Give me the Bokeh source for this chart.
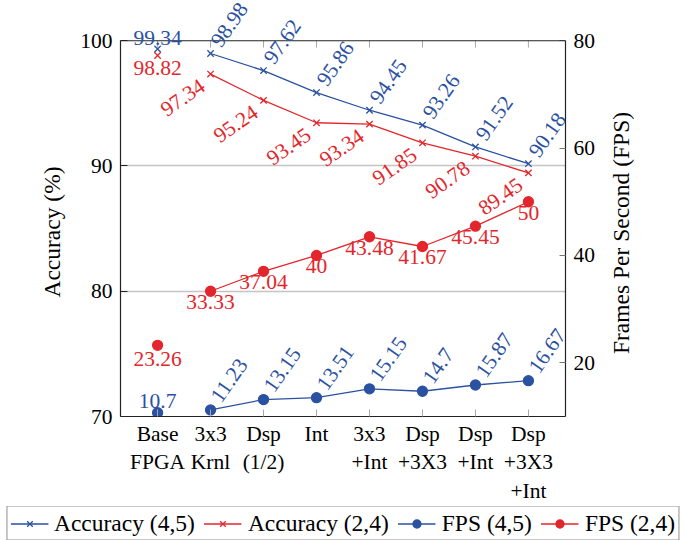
import math
from bokeh.plotting import figure
from bokeh.layouts import column, row
from bokeh.models import (Range1d, LinearAxis, FixedTicker, ColumnDataSource,
                          LabelSet, Legend, LegendItem, Span, Title)
from bokeh.embed import file_html
from bokeh.resources import INLINE

# ---------------- data ----------------
categories = ["Base\nFPGA", "3x3\nKrnl", "Dsp\n(1/2)", "Int", "3x3\n+Int",
              "Dsp\n+3X3", "Dsp\n+Int", "Dsp\n+3X3\n+Int"]
acc_45 = [99.34, 98.98, 97.62, 95.86, 94.45, 93.26, 91.52, 90.18]
acc_24 = [98.82, 97.34, 95.24, 93.45, 93.34, 91.85, 90.78, 89.45]
fps_45 = [10.7, 11.23, 13.15, 13.51, 15.15, 14.7, 15.87, 16.67]
fps_24 = [23.26, 33.33, 37.04, 40, 43.48, 41.67, 45.45, 50]
acc_ticks = [70, 80, 90, 100]
fps_ticks = [20, 40, 60, 80]
acc_bounds = (70, 100)
fps_bounds = (10, 80)
acc_title = "Accuracy (%)"
fps_title = "Frames Per Second (FPS)"
series_names = ["Accuracy (4,5)", "Accuracy (2,4)", "FPS (4,5)", "FPS (2,4)"]

# ---------------- style ----------------
BLUE = "#2b51a1"
RED = "#e3262c"
FONT = "Liberation Serif"
FS = "21.5px"        # numbers and category names
FS_T = "23.5px"      # axis titles and legend
TICK_GRAY = "#a8a8a8"
DARK = "#222222"
NB = "\u00a0"        # padding that moves the left title to the middle of the box

# the frame is extended above the 100 % line so the rotated value labels
# above the plot box are not clipped; the visible box ends at the top bound
HEAD = 41 / 383.0
acc_top = acc_bounds[1] + HEAD * (acc_bounds[1] - acc_bounds[0])
fps_top = fps_bounds[1] + HEAD * (fps_bounds[1] - fps_bounds[0])
TICK_LEN = 7 / 383.0 * (acc_bounds[1] - acc_bounds[0])

xs = list(range(len(categories)))


def fmt(v):
    return f"{v:g}"


p = figure(width=605, height=506, output_backend="svg", toolbar_location=None,
           x_range=Range1d(-0.7, 7.7), y_range=Range1d(acc_bounds[0], acc_top),
           min_border_left=120, min_border_right=40,
           min_border_top=0, min_border_bottom=82)
p.extra_y_ranges = {"fps": Range1d(fps_bounds[0], fps_top)}
p.outline_line_color = None
p.background_fill_color = "white"
p.border_fill_color = "white"

# grid
p.xgrid.visible = False
p.ygrid.ticker = FixedTicker(ticks=acc_ticks[1:-1])
p.ygrid.grid_line_color = "#c4c4c4"
p.ygrid.grid_line_width = 1.3

# top border of the box
p.add_layout(Span(location=acc_bounds[1], dimension="width",
                  line_color=DARK, line_width=1.2))
# top tick marks (inside)
p.segment(x0=xs, x1=xs, y0=[acc_bounds[1]] * len(xs),
          y1=[acc_bounds[1] - TICK_LEN] * len(xs), line_color=TICK_GRAY, line_width=1)

# bottom x axis
xa = p.xaxis[0]
xa.ticker = FixedTicker(ticks=xs)
xa.major_label_overrides = {i: c for i, c in enumerate(categories)}
xa.major_tick_in = 7
xa.major_tick_out = 0
xa.major_tick_line_color = TICK_GRAY
xa.minor_tick_line_color = None
xa.axis_line_color = DARK
xa.axis_line_width = 1.2
xa.major_label_text_font = FONT
xa.major_label_text_font_size = FS
xa.major_label_text_color = "black"
xa.major_label_standoff = 5

# left y axis
ya = p.yaxis[0]
ya.ticker = FixedTicker(ticks=acc_ticks)
ya.bounds = acc_bounds
ya.axis_label = acc_title + NB * 8
ya.axis_label_text_font = FONT
ya.axis_label_text_font_size = FS_T
ya.axis_label_text_font_style = "normal"
ya.axis_label_text_color = "black"
ya.axis_label_standoff = 12
ya.major_tick_in = 7
ya.major_tick_out = 0
ya.major_tick_line_color = DARK
ya.minor_tick_line_color = None
ya.axis_line_color = DARK
ya.axis_line_width = 1.2
ya.major_label_text_font = FONT
ya.major_label_text_font_size = FS
ya.major_label_text_color = "black"
ya.major_label_standoff = 8

# right y axis (its title is drawn in the strip to the right)
ra = LinearAxis(y_range_name="fps", ticker=FixedTicker(ticks=fps_ticks),
                bounds=fps_bounds)
ra.major_tick_in = 6
ra.major_tick_out = 0
ra.major_tick_line_color = "#777777"
ra.minor_tick_line_color = None
ra.axis_line_color = DARK
ra.axis_line_width = 1.2
ra.major_label_text_font = FONT
ra.major_label_text_font_size = FS
ra.major_label_text_color = "black"
ra.major_label_standoff = 8
p.add_layout(ra, "right")

# ---------------- glyphs ----------------
LW = 1.3
STY = {
    series_names[0]: dict(color=BLUE, marker="x", size=9),
    series_names[1]: dict(color=RED, marker="x", size=9),
    series_names[2]: dict(color=BLUE, marker="circle", size=10),
    series_names[3]: dict(color=RED, marker="circle", size=10),
}


def series(fig, name, xv, yv, y_range="default"):
    s = STY[name]
    ln = fig.line(xv[1:], yv[1:], line_color=s["color"], line_width=LW,
                  y_range_name=y_range)
    sc = fig.scatter(xv, yv, marker=s["marker"], size=s["size"],
                     line_color=s["color"], fill_color=s["color"], line_width=LW,
                     y_range_name=y_range)
    return ln, sc


series(p, series_names[0], xs, acc_45)
series(p, series_names[1], xs, acc_24)
series(p, series_names[2], xs, fps_45, "fps")
series(p, series_names[3], xs, fps_24, "fps")


# ---------------- value labels ----------------
def labels(xv, yv, color, y_range="default", **kw):
    src = ColumnDataSource(dict(x=xv, y=yv, t=[fmt(v) for v in yv]))
    ls = LabelSet(source=src, x="x", y="y", text="t", y_range_name=y_range,
                  text_font=FONT, text_font_size=FS, text_color=color, **kw)
    p.add_layout(ls)


# first category: plain labels
labels(xs[:1], acc_45[:1], BLUE, text_align="center", text_baseline="bottom", y_offset=4)
labels(xs[:1], acc_24[:1], RED, text_align="center", text_baseline="top", y_offset=-5)
labels(xs[:1], fps_45[:1], BLUE, "fps", text_align="center", text_baseline="bottom", y_offset=5)
labels(xs[:1], fps_24[:1], RED, "fps", text_align="center", text_baseline="top", y_offset=-7)

# rotated labels
labels(xs[1:], acc_45[1:], BLUE, angle=55, angle_units="deg",
       text_align="left", text_baseline="middle", x_offset=5, y_offset=9)
labels(xs[1:], acc_24[1:], RED, angle=35, angle_units="deg",
       text_align="right", text_baseline="top", x_offset=-12, y_offset=-4)
labels(xs[1:], fps_45[1:], BLUE, "fps", angle=55, angle_units="deg",
       text_align="left", text_baseline="middle", x_offset=5, y_offset=10)
labels(xs[1:], fps_24[1:], RED, "fps", text_align="center", text_baseline="top",
       y_offset=-4)

# ---------------- right title strip ----------------
side = figure(width=80, height=506, output_backend="svg", toolbar_location=None,
              x_range=Range1d(0, 1), y_range=Range1d(0, 1),
              x_axis_location=None, y_axis_location=None,
              min_border_left=28, min_border_right=0, min_border_top=41,
              min_border_bottom=82)
side.outline_line_color = None
side.border_fill_color = "white"
side.background_fill_color = "white"
side.xgrid.visible = False
side.ygrid.visible = False
tkw = dict(text=fps_title, align="center", text_font=FONT, text_font_size=FS_T,
           text_font_style="normal", text_color="black")
t = Title(**tkw)
for prop, v in (("standoff", 0), ("offset", 0)):
    if prop in t.properties():
        setattr(t, prop, v)
side.add_layout(t, "left")

# ---------------- legend (own strip below the chart) ----------------
# the strip shows only its legend: its ranges leave the series out of view
lg = figure(width=685, height=34, output_backend="svg", toolbar_location=None,
            x_range=Range1d(-100, -99), y_range=Range1d(-100, -99),
            x_axis_location=None, y_axis_location=None,
            min_border_left=0, min_border_right=0, min_border_top=0,
            min_border_bottom=0)
lg.outline_line_color = None
lg.border_fill_color = "white"
lg.xgrid.visible = False
lg.ygrid.visible = False
items = []
for name, vals in zip(series_names, [acc_45, acc_24, fps_45, fps_24]):
    ln, sc = series(lg, name, xs, vals)
    items.append(LegendItem(label=name, renderers=[ln, sc]))
legend = Legend(items=items, orientation="horizontal", location="center",
                label_text_font=FONT, label_text_font_size=FS_T, label_text_color="black",
                glyph_width=38, glyph_height=20, label_standoff=6, spacing=9,
                padding=3, margin=0, border_line_color=DARK, border_line_width=1.2,
                background_fill_color="white", background_fill_alpha=1.0)
lg.add_layout(legend)

# the strips must not be aligned to the chart's plot box
for f in (p, side, lg):
    if "frame_align" in f.properties():
        f.frame_align = False

layout = column(row(p, side, spacing=0), lg, spacing=0)
open("out.html", "w").write(file_html(layout, INLINE))
